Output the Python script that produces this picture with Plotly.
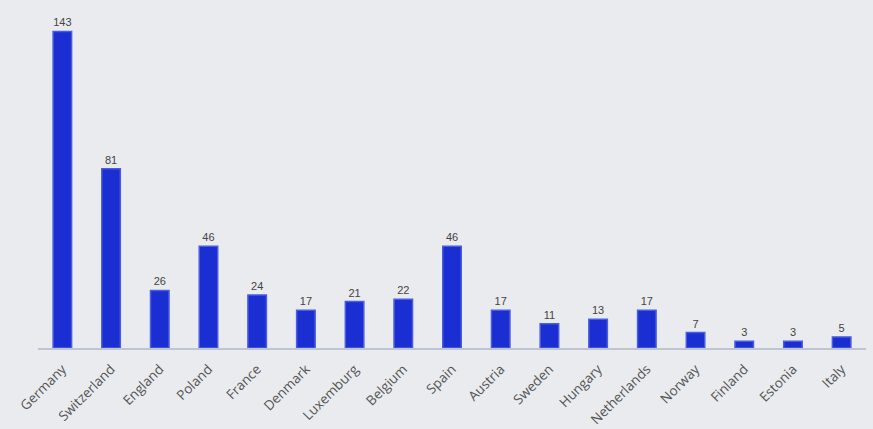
import plotly.graph_objects as go

countries = ["Germany", "Switzerland", "England", "Poland", "France", "Denmark", "Luxemburg",
             "Belgium", "Spain", "Austria", "Sweden", "Hungary", "Netherlands", "Norway",
             "Finland", "Estonia", "Italy"]
values = [143, 81, 26, 46, 24, 17, 21, 22, 46, 17, 11, 13, 17, 7, 3, 3, 5]

fig = go.Figure(go.Bar(
    x=countries, y=values, text=values, textposition="outside",
    textfont=dict(size=11, color="#444444", family="Liberation Sans"),
    marker=dict(color="#1a2ed2", line=dict(width=1.5, color="#4a5ce0")),
    width=0.38, cliponaxis=False,
))

fig.update_layout(
    width=873, height=429,
    margin=dict(l=38, r=7, t=16, b=81),
    paper_bgcolor="#e9ebee", plot_bgcolor="#e9ebee",
    showlegend=False,
    xaxis=dict(tickangle=-45, showline=True, linecolor="#bfc5d0", linewidth=2,
               tickfont=dict(size=13.5, color="#555555", family="Open Sans"),
               showgrid=False, ticks="outside", ticklen=6, tickcolor="rgba(0,0,0,0)",
               automargin=False),
    yaxis=dict(range=[0, 150], visible=False, showgrid=False, zeroline=False,
               automargin=False),
)

fig.write_html("out.html",
               config={"displayModeBar": False},
               post_script="document.body.style.margin='0';"
                           "document.body.style.background='#e9ebee';")
